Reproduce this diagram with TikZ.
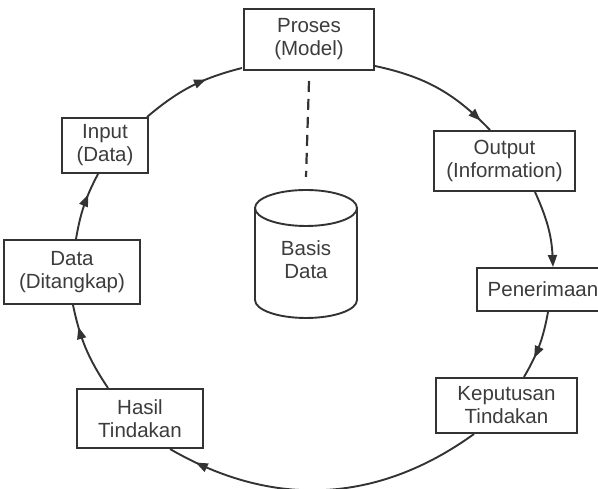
\documentclass[tikz,border=0pt]{standalone}
\usepackage{fontspec}
\setmainfont{Liberation Sans}
\usetikzlibrary{arrows.meta,decorations.markings}
\definecolor{ink}{HTML}{333333}
\definecolor{txt}{HTML}{3C3C3C}
\tikzset{
  box/.style={draw=ink, line width=2pt, fill=white, rectangle, align=center,
    inner sep=0pt, text=txt, font=\fontsize{20.5}{23}\selectfont},
  flow/.style={draw=ink, line width=1.9pt},
  midarrow/.style={postaction={decorate}, decoration={markings,
    mark=at position #1 with {\arrow{Triangle[length=12pt,width=9pt]}}}},
  tiparrow/.style={-{Triangle[length=12pt,width=9pt]}},
}
\begin{document}
\begin{tikzpicture}[x=1pt,y=1pt]
\useasboundingbox (0,0) rectangle (598,489);

% process boxes around the cycle
\node[box, minimum width=130pt, minimum height=61pt] (proses) at (309,449.5) {Proses\\(Model)};
\node[box, minimum width=141pt, minimum height=60pt] (output) at (504.5,328) {Output\\(Information)};
\node[box, minimum width=132pt, minimum height=43pt] (pener) at (543,199.5) {Penerimaan};
\node[box, minimum width=141pt, minimum height=55pt] (keput) at (506.5,83.5) {Keputusan\\Tindakan};
\node[box, minimum width=126pt, minimum height=59pt] (hasil) at (140,70.5) {Hasil\\Tindakan};
\node[box, minimum width=136pt, minimum height=64pt] (datad) at (72,217) {Data\\(Ditangkap)};
\node[box, minimum width=86pt, minimum height=55pt] (inp) at (105,343.5) {Input\\(Data)};

% database cylinder
\draw[draw=ink, line width=1.9pt, fill=white]
  (255,281) -- (255,189) arc[start angle=180, end angle=360, x radius=51, y radius=18] -- (357,281);
\draw[draw=ink, line width=1.9pt] (306,281) ellipse[x radius=51, y radius=18];
\coordinate (dbtop) at (306,299);
\node[text=txt, align=center, font=\fontsize{20.5}{23}\selectfont] (db) at (306,229) {Basis\\Data};

% dashed link between model and database
\draw[draw=ink, line width=2.2pt, dash pattern=on 11pt off 7pt]
  ([yshift=-10pt]proses.south) -- ([yshift=13pt]dbtop);

% cycle connectors
\draw[flow, midarrow=0.65] ([xshift=-2pt]inp.north east) to[bend left=13] ([yshift=3pt,xshift=-1pt]proses.south west);
\draw[flow, midarrow=0.9] ([yshift=5pt]proses.south east) to[bend left=17] ([xshift=-14.5pt]output.north);
\draw[flow, tiparrow] ([xshift=30.5pt]output.south) to[bend left=11] ([xshift=10pt]pener.north);
\draw[flow, midarrow=0.69] ([xshift=5pt]pener.south) to[bend left=10] ([xshift=17.5pt]keput.north);
\draw[flow, midarrow=0.91] ([xshift=-32.5pt]keput.south) to[bend left=33] ([xshift=30pt]hasil.south);
\draw[flow, midarrow=0.75] ([xshift=-32pt]hasil.north) to[bend left=11] ([xshift=1pt]datad.south);
\draw[flow, midarrow=0.67] ([xshift=4pt]datad.north) to[bend left=9] ([xshift=-7pt]inp.south);
\end{tikzpicture}
\end{document}
